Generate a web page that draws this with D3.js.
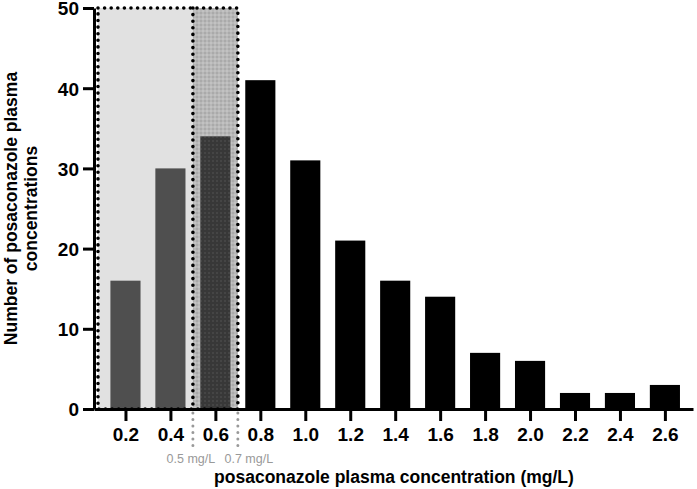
<!DOCTYPE html>
<html>
<head>
<meta charset="utf-8">
<script src="https://cdn.jsdelivr.net/npm/d3@7"></script>
<style>
  body { margin: 0; background: #fff; }
  svg { display: block; font-family: "Liberation Sans", Arial, sans-serif; }
</style>
</head>
<body>
<div id="chart"></div>
<script>
// Data ------------------------------------------------------------------------------------------------------------
const bins = [0.2, 0.4, 0.6, 0.8, 1.0, 1.2, 1.4, 1.6, 1.8, 2.0, 2.2, 2.4, 2.6];
const counts = [16, 30, 34, 41, 31, 21, 16, 14, 7, 6, 2, 2, 3];
const yTicks = [0, 10, 20, 30, 40, 50];
const thresholds = [0.5, 0.7];
const thresholdLabels = ["0.5 mg/L", "0.7 mg/L"];

// Canvas ----------------------------------------------------------------------------------------------------------
const canvasWidth = 697;
const canvasHeight = 489;

const svg = d3.select("#chart")
  .append("svg")
  .attr("width", canvasWidth)
  .attr("height", canvasHeight);

const defs = svg.append("defs");

const lightDots = defs.append("pattern")
  .attr("id", "lightDots")
  .attr("width", 4)
  .attr("height", 4)
  .attr("patternUnits", "userSpaceOnUse");
lightDots.append("rect").attr("width", 4).attr("height", 4).attr("fill", "#b8b8b8");
lightDots.append("circle").attr("cx", 1).attr("cy", 1).attr("r", 0.8).attr("fill", "#999");
lightDots.append("circle").attr("cx", 3).attr("cy", 3).attr("r", 0.8).attr("fill", "#d0d0d0");

const darkDots = defs.append("pattern")
  .attr("id", "darkDots")
  .attr("width", 4)
  .attr("height", 4)
  .attr("patternUnits", "userSpaceOnUse");
darkDots.append("rect").attr("width", 4).attr("height", 4).attr("fill", "#383838");
darkDots.append("circle").attr("cx", 1).attr("cy", 1).attr("r", 0.8).attr("fill", "#555");

// Scales ----------------------------------------------------------------------------------------------------------
const xScale = d3.scaleLinear()
  .domain([0.06, 2.725])
  .range([94, 693]);

const yScale = d3.scaleLinear()
  .domain([0, 50])
  .range([409, 8]);

const barWidth = xScale(0.2 + 0.134) - xScale(0.2);

// Shaded regions --------------------------------------------------------------------------------------------------
const regionTop = yScale(50);
const regionBottom = yScale(0);
const regionLeft = xScale.range()[0] + 4;

svg.append("rect")
  .attr("x", regionLeft)
  .attr("y", regionTop)
  .attr("width", xScale(thresholds[0]) - regionLeft)
  .attr("height", regionBottom - regionTop)
  .attr("fill", "#e1e1e1");

svg.append("rect")
  .attr("x", xScale(thresholds[0]))
  .attr("y", regionTop)
  .attr("width", xScale(thresholds[1]) - xScale(thresholds[0]))
  .attr("height", regionBottom - regionTop)
  .attr("fill", "url(#lightDots)");

// Bars ------------------------------------------------------------------------------------------------------------
svg.append("g")
  .selectAll("rect")
  .data(bins.map((b, i) => [b, counts[i]]))
  .enter()
  .append("rect")
  .attr("x", d => xScale(d[0]) - barWidth / 2)
  .attr("y", d => yScale(d[1]))
  .attr("width", barWidth)
  .attr("height", d => yScale(0) - yScale(d[1]))
  .attr("fill", function(d) {
    if (d[0] < thresholds[0]) return "#4f4f4f";
    if (d[0] < thresholds[1]) return "url(#darkDots)";
    return "#000";
  });

// Dotted borders --------------------------------------------------------------------------------------------------
const dotted = svg.append("g")
  .attr("fill", "none")
  .attr("stroke", "#000")
  .attr("stroke-width", 3.6)
  .attr("stroke-linecap", "round")
  .attr("stroke-dasharray", "0 6.6");

dotted.append("rect")
  .attr("x", regionLeft)
  .attr("y", regionTop)
  .attr("width", xScale(thresholds[1]) - regionLeft)
  .attr("height", regionBottom - regionTop);

dotted.append("line")
  .attr("x1", xScale(thresholds[0]))
  .attr("x2", xScale(thresholds[0]))
  .attr("y1", regionTop)
  .attr("y2", regionBottom);

// Threshold markers -----------------------------------------------------------------------------------------------
svg.append("g")
  .selectAll("line")
  .data(thresholds)
  .enter()
  .append("line")
  .attr("x1", d => xScale(d))
  .attr("x2", d => xScale(d))
  .attr("y1", yScale(0) + 4)
  .attr("y2", yScale(0) + 42)
  .attr("stroke", "#999")
  .attr("stroke-width", 3)
  .attr("stroke-linecap", "round")
  .attr("stroke-dasharray", "0 6.5");

svg.append("g")
  .selectAll("text")
  .data(thresholds)
  .enter()
  .append("text")
  .text((d, i) => thresholdLabels[i])
  .attr("x", (d, i) => xScale(d) + (i === 0 ? -2 : 11))
  .attr("y", yScale(0) + 54)
  .style("text-anchor", "middle")
  .style("font-size", "12.5px")
  .style("fill", "#999");

// Axes ------------------------------------------------------------------------------------------------------------
const yAxis = svg.append("g")
  .attr("transform", "translate(" + xScale.range()[0] + ", 0)")
  .call(d3.axisLeft(yScale).tickValues(yTicks).tickSize(11).tickSizeOuter(0).tickPadding(4));
yAxis.selectAll("text")
  .attr("dy", "0.36em")
  .style("font-size", "19px")
  .style("font-weight", "bold")
  .style("fill", "#000");
yAxis.selectAll("path, line")
  .style("stroke", "#000")
  .style("stroke-width", 3);

const xAxis = svg.append("g")
  .attr("transform", "translate(0, " + yScale(0) + ")")
  .call(d3.axisBottom(xScale).tickValues(bins).tickFormat(d3.format(".1f")).tickSize(12).tickSizeOuter(0).tickPadding(7));
xAxis.selectAll("text")
  .style("font-size", "19px")
  .style("font-weight", "bold")
  .style("fill", "#000");
xAxis.selectAll("path, line")
  .style("stroke", "#000")
  .style("stroke-width", 3);

// Axis titles -----------------------------------------------------------------------------------------------------
svg.append("text")
  .text("posaconazole plasma concentration (mg/L)")
  .attr("x", 394)
  .attr("y", 483)
  .style("text-anchor", "middle")
  .style("font-size", "17.5px")
  .style("font-weight", "bold");

const yLabel = svg.append("text")
  .attr("transform", "translate(0, " + (yScale(0) + yScale(50)) / 2 + ") rotate(-90)")
  .style("text-anchor", "middle")
  .style("font-size", "17.5px")
  .style("font-weight", "bold");
yLabel.append("tspan").attr("x", 0).attr("y", 17).text("Number of posaconazole plasma");
yLabel.append("tspan").attr("x", 0).attr("y", 37).text("concentrations");
</script>
</body>
</html>
